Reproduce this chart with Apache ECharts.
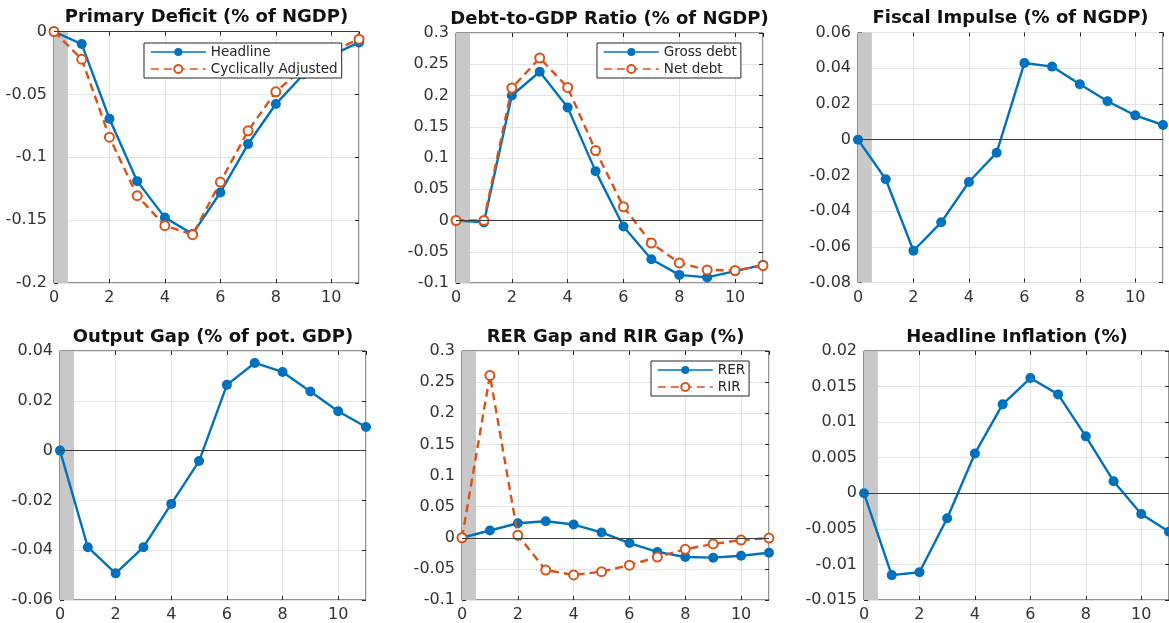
<!DOCTYPE html>
<html>
<head>
<meta charset="utf-8">
<script src="https://cdn.jsdelivr.net/npm/echarts@6/dist/echarts.min.js"></script>
<style>
html,body{margin:0;padding:0;background:#fff;}
#chart{width:1169px;height:623px;}
</style>
</head>
<body>
<div id="chart"></div>
<script>
// ---- data ----
const steps = [0, 1, 2, 3, 4, 5, 6, 7, 8, 9, 10, 11];
const xTicks = [0, 2, 4, 6, 8, 10];
const primaryHeadline = [0, -0.010, -0.0694, -0.119, -0.148, -0.161, -0.128, -0.0895, -0.0577, -0.034, -0.019, -0.0087];
const primaryCyclical = [0, -0.022, -0.084, -0.1306, -0.1544, -0.1616, -0.1197, -0.079, -0.048, -0.0286, -0.016, -0.0061];
const grossDebt = [0, -0.003, 0.200, 0.238, 0.181, 0.079, -0.0096, -0.062, -0.087, -0.091, -0.081, -0.071];
const netDebt = [0, 0, 0.212, 0.260, 0.213, 0.112, 0.022, -0.036, -0.068, -0.079, -0.080, -0.072];
const fiscalImpulse = [0, -0.0222, -0.0622, -0.0463, -0.0237, -0.0073, 0.0429, 0.0409, 0.031, 0.0215, 0.0136, 0.0082];
const outputGap = [0, -0.0388, -0.0493, -0.0388, -0.0214, -0.0042, 0.0264, 0.0352, 0.0316, 0.0237, 0.0158, 0.0095];
const rerGap = [0, 0.0116, 0.0233, 0.0265, 0.0212, 0.0085, -0.0085, -0.0228, -0.031, -0.032, -0.029, -0.024];
const rirGap = [0, 0.2608, 0.0042, -0.0519, -0.0598, -0.0545, -0.044, -0.031, -0.0185, -0.0100, -0.0037, -0.0005];
const headlineInflation = [0, -0.0115, -0.0111, -0.0035, 0.0056, 0.0125, 0.0162, 0.0139, 0.008, 0.0017, -0.0029, -0.0054];

// ---- layout / style ----
const BLUE = '#0072BD', ORANGE = '#D95319', INK = '#262626';
const FONT = '"DejaVu Sans", sans-serif';
const panels = [
  { title: 'Primary Deficit (% of NGDP)', grid: { left: 54, top: 31.5, width: 305, height: 251.5 }, y: [-0.2, 0, 0.05],
    series: [{ name: 'Headline', values: primaryHeadline, dashed: false }, { name: 'Cyclically Adjusted', values: primaryCyclical, dashed: true }],
    legend: { left: 144, top: 43 } },
  { title: 'Debt-to-GDP Ratio (% of NGDP)', grid: { left: 456, top: 33, width: 307, height: 250 }, y: [-0.1, 0.3, 0.05],
    series: [{ name: 'Gross debt', values: grossDebt, dashed: false }, { name: 'Net debt', values: netDebt, dashed: true }],
    legend: { left: 597, top: 43 } },
  { title: 'Fiscal Impulse (% of NGDP)', grid: { left: 858, top: 32.5, width: 305, height: 250 }, y: [-0.08, 0.06, 0.02],
    series: [{ name: 'Fiscal Impulse', values: fiscalImpulse, dashed: false }] },
  { title: 'Output Gap (% of pot. GDP)', grid: { left: 60, top: 351, width: 306, height: 252 }, y: [-0.06, 0.04, 0.02],
    series: [{ name: 'Output Gap', values: outputGap, dashed: false }] },
  { title: 'RER Gap and RIR Gap (%)', grid: { left: 462, top: 351, width: 307, height: 252 }, y: [-0.1, 0.3, 0.05],
    series: [{ name: 'RER', values: rerGap, dashed: false }, { name: 'RIR', values: rirGap, dashed: true }],
    legend: { left: 651, top: 361 } },
  { title: 'Headline Inflation (%)', grid: { left: 864, top: 351, width: 306, height: 252 }, y: [-0.015, 0.02, 0.005],
    series: [{ name: 'Inflation', values: headlineInflation, dashed: false }] }
];

const option = { animation: false, backgroundColor: '#fff', title: [], grid: [], xAxis: [], yAxis: [], series: [], legend: [] };

panels.forEach((p, i) => {
  const g = p.grid;
  option.title.push({
    text: p.title, left: g.left + g.width / 2, top: g.top - 23, textAlign: 'center', padding: 0,
    textStyle: { fontFamily: FONT, fontWeight: 'bold', fontSize: 18, color: '#111' }
  });
  option.grid.push(Object.assign({ show: true, borderColor: INK, borderWidth: 1, backgroundColor: '#fff' }, g));
  const tick = { show: true, inside: true, length: 4, lineStyle: { color: INK, width: 1 } };
  option.xAxis.push({
    type: 'value', gridIndex: i, min: 0, max: 11, interval: 2, position: 'bottom',
    axisLine: { show: false, onZero: false }, axisTick: tick,
    axisLabel: { margin: 7, showMaxLabel: false, fontFamily: FONT, fontSize: 16, color: '#333',
      formatter: v => xTicks.indexOf(v) >= 0 ? String(v) : '' },
    splitLine: { show: true, lineStyle: { color: '#e3e3e3', width: 1 } }
  });
  option.xAxis.push({
    type: 'value', gridIndex: i, min: 0, max: 11, interval: 2, position: 'top',
    axisLine: { show: false, onZero: false }, axisTick: tick, axisLabel: { show: false }, splitLine: { show: false }
  });
  option.yAxis.push({
    type: 'value', gridIndex: i, min: p.y[0], max: p.y[1], interval: p.y[2], position: 'left',
    axisLine: { show: false, onZero: false }, axisTick: tick,
    axisLabel: { margin: 7, fontFamily: FONT, fontSize: 16, color: '#333' },
    splitLine: { show: true, lineStyle: { color: '#e3e3e3', width: 1 } }
  });
  option.yAxis.push({
    type: 'value', gridIndex: i, min: p.y[0], max: p.y[1], interval: p.y[2], position: 'right',
    axisLine: { show: false, onZero: false }, axisTick: tick, axisLabel: { show: false }, splitLine: { show: false }
  });
  p.series.forEach((s, k) => {
    const ser = {
      type: 'line', name: s.name, xAxisIndex: 2 * i, yAxisIndex: 2 * i,
      data: steps.map((t, j) => [t, s.values[j]]),
      symbol: s.dashed ? 'emptyCircle' : 'circle', symbolSize: s.dashed ? 9 : 10, showSymbol: true,
      color: s.dashed ? ORANGE : BLUE,
      lineStyle: { color: s.dashed ? ORANGE : BLUE, width: 2.4, type: s.dashed ? [8, 5] : 'solid' },
      itemStyle: s.dashed ? { color: ORANGE, borderColor: ORANGE, borderWidth: 1.8 } : { color: BLUE },
      emphasis: { disabled: true }, silent: true, z: 3 + k
    };
    if (k === 0) {
      ser.markArea = { silent: true, itemStyle: { color: '#c8c8c8' }, data: [[{ xAxis: 0 }, { xAxis: 0.5 }]] };
      ser.markLine = { silent: true, symbol: 'none', label: { show: false },
        lineStyle: { color: '#3a3a3a', width: 1, type: 'solid' }, data: [{ yAxis: 0 }] };
    }
    option.series.push(ser);
  });
  if (p.legend) {
    option.legend.push({
      data: p.series.map(s => s.name), left: p.legend.left, top: p.legend.top, orient: 'vertical', z: 20,
      selectedMode: false, backgroundColor: '#fff', borderColor: INK, borderWidth: 1, borderRadius: 0,
      padding: [2, 4, 2, 6], itemWidth: 55, itemHeight: 10, itemGap: 3,
      lineStyle: { width: 1.6 },
      textStyle: { fontFamily: FONT, fontSize: 13.5, color: INK, lineHeight: 14 }
    });
  }
});

const chart = echarts.init(document.getElementById('chart'), null, { renderer: 'canvas' });
chart.setOption(option);
</script>
</body>
</html>
